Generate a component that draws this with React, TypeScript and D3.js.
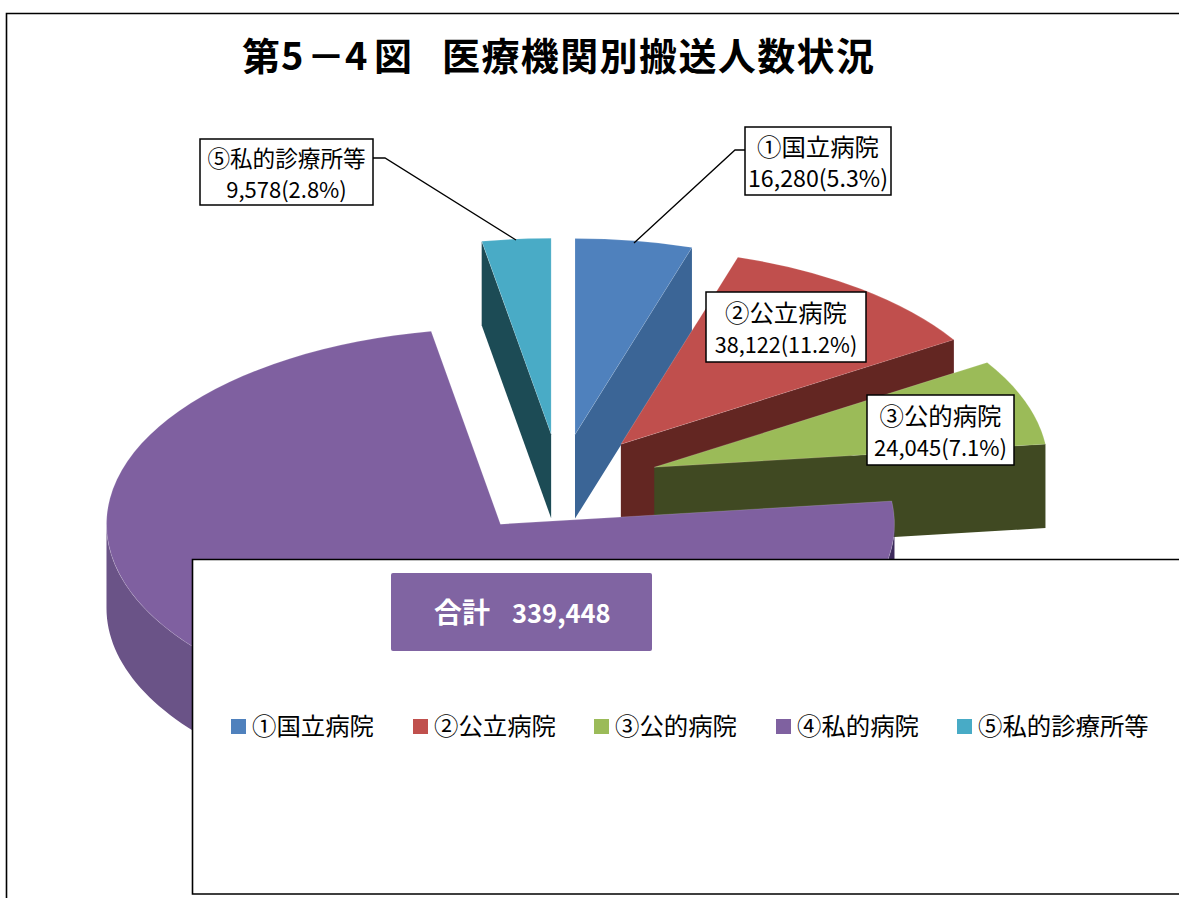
import React from "react";
import * as d3 from "d3";

// ---- data ----
const categories = ["①国立病院", "②公立病院", "③公的病院", "④私的病院", "⑤私的診療所等"];
const values = [16280, 38122, 24045, 251423, 9578];
const valueLabels = ["16,280(5.3%)", "38,122(11.2%)", "24,045(7.1%)", "", "9,578(2.8%)"];
const titleHead = "第5－4図";
const titleTail = "医療機関別搬送人数状況";
const totalLabel = "合計";
const totalValue = "339,448";

// ---- styles / layout ----
const topColors = ["#4f81bd", "#c0504d", "#9bbb59", "#7f61a0", "#48abc6"];
const sideColors = ["#3a6596", "#632523", "#3f4a20", "#6b5287", "#1f4b55"];
const W = 1179, H = 898;
const pieLayout = { cx: 560, cy: 484, rx: 394, ry: 196, depth: 84, ex: 100, ey: 50 };
const CJK = "'Noto Sans CJK JP', sans-serif";

type Callout = { index: number; x0: number; y0: number; x1: number; y1: number; size: number; numSize: number; line?: [number, number][] };
const callouts: Callout[] = [
  { index: 0, x0: 745, y0: 127, x1: 891, y1: 195, size: 24.4, numSize: 23.2, line: [[745, 150], [735, 150], [634, 243]] },
  { index: 1, x0: 706, y0: 292, x1: 866, y1: 362, size: 24.4, numSize: 21.6 },
  { index: 2, x0: 867, y0: 395, x1: 1014, y1: 465, size: 24.4, numSize: 22 },
  { index: 4, x0: 200, y0: 139, x1: 373, y1: 205, size: 22.6, numSize: 22, line: [[373, 158], [385, 158], [516, 240]] },
];
const legendX = [231, 413, 594, 776, 957];

const TAU = Math.PI * 2;

export default function App() {
  const { cx, cy, rx, ry, depth, ex, ey } = pieLayout;
  const arcs = d3.pie<number>().sort(null)(values);
  const arcGen = d3.arc<d3.PieArcDatum<number>>().innerRadius(0).outerRadius(1);
  const line = d3.line();

  const slices = arcs.map((a, i) => {
    const mid = (a.startAngle + a.endAngle) / 2;
    const ax = cx + ex * Math.sin(mid);
    const ay = cy - ey * Math.cos(mid);
    const pt = (t: number, dz = 0): [number, number] => [ax + rx * Math.sin(t), ay - ry * Math.cos(t) + dz];
    return { a, i, ax, ay, pt };
  });

  const sideFaces = (s: (typeof slices)[number]) => {
    const faces: string[] = [];
    const { a, ax, ay, pt } = s;
    const quad = (t: number) =>
      line([[ax, ay], pt(t), pt(t, depth), [ax, ay + depth]]) + "Z";
    if (a.endAngle > 0 && a.endAngle < Math.PI) faces.push(quad(a.endAngle));
    if (a.startAngle > Math.PI && a.startAngle < TAU) faces.push(quad(a.startAngle));
    return faces;
  };

  const rimPath = (s: (typeof slices)[number]) => {
    const t0 = Math.max(s.a.startAngle, Math.PI / 2);
    const t1 = Math.min(s.a.endAngle, (3 * Math.PI) / 2);
    if (t1 <= t0) return null;
    const ts = d3.range(0, 121).map((k) => t0 + ((t1 - t0) * k) / 120);
    const upper = ts.map((t) => s.pt(t));
    const lower = ts.slice().reverse().map((t) => s.pt(t, depth));
    return line([...upper, ...lower]) + "Z";
  };

  return (
    <svg
      width={W}
      height={H}
      viewBox={`0 0 ${W} ${H}`}
      style={{ position: "fixed", left: 0, top: 0, background: "#fff" }}
    >
      <defs>
        <filter id="soft" x="-5%" y="-5%" width="110%" height="110%">
          <feGaussianBlur stdDeviation="0.6" />
        </filter>
        <linearGradient id="rim" x1="0" x2="1" y1="0" y2="0">
          <stop offset="0.97" stopColor={sideColors[3]} />
          <stop offset="0.995" stopColor="#3d2c5c" />
        </linearGradient>
      </defs>

      {/* outer frame */}
      <path d={`M6.5 ${H}V13.5H${W}`} fill="none" stroke="#000" strokeWidth={1.6} />

      {/* title */}
      <text
        y={70}
        x="242 281 307 345 374"
        fontFamily={CJK}
        fontWeight={700}
        fontSize={38}
        fill="#000"
      >
        {titleHead}
      </text>
      <text y={70} x={442} fontFamily={CJK} fontWeight={700} fontSize={38} letterSpacing={1.4} fill="#000">
        {titleTail}
      </text>

      {/* exploded 3-D pie */}
      <g filter="url(#soft)">
        {slices.map((s) => (
          <g key={categories[s.i]}>
            {sideFaces(s).map((d, k) => (
              <path key={k} d={d} fill={sideColors[s.i]} />
            ))}
            {rimPath(s) && <path d={rimPath(s)!} fill="url(#rim)" />}
            <path
              d={arcGen(s.a)!}
              transform={`translate(${s.ax},${s.ay}) scale(${rx},${ry})`}
              fill={topColors[s.i]}
              stroke="#ffffff"
              strokeOpacity={0.15}
              strokeWidth={1}
              vectorEffect="non-scaling-stroke"
            />
          </g>
        ))}
      </g>

      {/* callouts */}
      {callouts.map((c) => (
        <g key={c.index}>
          {c.line && <path d={line(c.line)!} fill="none" stroke="#000" strokeWidth={1.3} />}
          <rect
            x={c.x0}
            y={c.y0}
            width={c.x1 - c.x0}
            height={c.y1 - c.y0}
            fill="#fff"
            stroke="#000"
            strokeWidth={1.5}
          />
          <text
            x={(c.x0 + c.x1) / 2}
            y={(c.y0 + c.y1) / 2 - 5}
            textAnchor="middle"
            fontFamily={CJK}
            fontSize={c.size}
            fill="#000"
          >
            {categories[c.index]}
          </text>
          <text
            x={(c.x0 + c.x1) / 2}
            y={(c.y0 + c.y1) / 2 + 26}
            textAnchor="middle"
            fontFamily={CJK}
            fontSize={c.numSize}
            fill="#000"
          >
            {valueLabels[c.index]}
          </text>
        </g>
      ))}

      {/* lower panel */}
      <path d={`M${W} 559.5H192.5V894H${W}`} fill="#fff" stroke="#000" strokeWidth={1.6} />
      <rect x={391} y={573} width={261} height={78} rx={2} fill="#8064a2" />
      <text x={434} y={623} fontFamily={CJK} fontWeight={700} fontSize={28} fill="#fff">
        {totalLabel}
      </text>
      <text x={512} y={623} fontFamily={CJK} fontWeight={700} fontSize={25.5} fill="#fff">
        {totalValue}
      </text>

      {/* legend */}
      {categories.map((c, i) => (
        <g key={c}>
          <rect x={legendX[i]} y={719} width={15} height={15} fill={topColors[i]} />
          <text x={legendX[i] + 21} y={735} fontFamily={CJK} fontSize={24.4} fill="#000">
            {c}
          </text>
        </g>
      ))}
    </svg>
  );
}
